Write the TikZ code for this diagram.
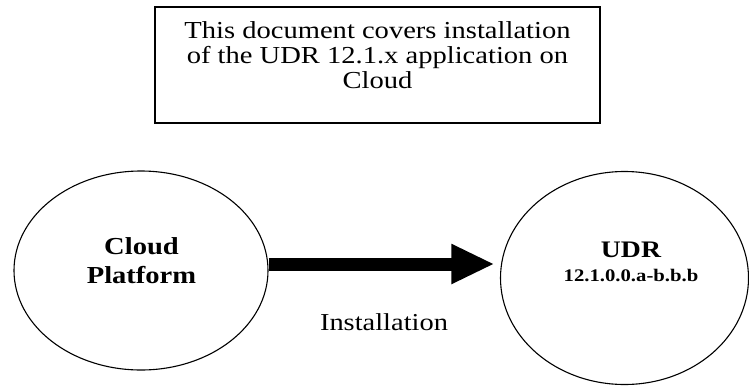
\documentclass[tikz,border=0pt]{standalone}
\usepackage{fontspec}
\usepackage{graphicx}
\setmainfont{Liberation Serif}
\usetikzlibrary{shapes.geometric,arrows.meta}
\newcommand{\widetxt}[1]{\scalebox{1.17}[1]{#1}}
\begin{document}
\begin{tikzpicture}[x=1pt,y=-1pt,
  txt/.style={inner sep=0pt, anchor=base},
  bubble/.style={draw, ellipse, line width=1.1pt, inner sep=0pt},
  textbox/.style={draw, rectangle, line width=1.2pt, inner sep=0pt},
  bigarrow/.style={line width=13pt, -{Triangle[width=37pt,length=43pt]}}]
\useasboundingbox (0,0) rectangle (749,386);
% top box
\node[textbox, minimum width=445pt, minimum height=116pt] (box) at (377.5,65) {};
\node[txt] (boxtext) at (377.5,38.5) {\widetxt{\fontsize{24.4}{25}\selectfont
  \begin{tabular}[t]{@{}c@{}}This document covers installation\\ of the UDR 12.1.x application on\\ Cloud\end{tabular}}};
% ellipses
\node[bubble, minimum width=254pt, minimum height=199pt] (cloud) at (141,270.5) {};
\node[bubble, minimum width=248pt, minimum height=213pt] (udr) at (624.5,278) {};
\node[txt] (cloudtext) at (141.5,254) {\widetxt{\fontsize{24.4}{29.5}\selectfont\bfseries
  \begin{tabular}[t]{@{}c@{}}Cloud\\ Platform\end{tabular}}};
\node[txt] (udrtext) at (631,257) {\widetxt{\fontsize{17.7}{24}\selectfont\bfseries
  \begin{tabular}[t]{@{}c@{}}{\fontsize{23.7}{24}\selectfont UDR}\\ 12.1.0.0.a-b.b.b\end{tabular}}};
% arrow
\draw[bigarrow, shorten >=5.5pt] ([yshift=6.5pt]cloud.east) -- ([yshift=14pt]udr.west);
\node[txt] (install) at (384,330) {\widetxt{\fontsize{24.3}{29}\selectfont Installation}};
\end{tikzpicture}
\end{document}
